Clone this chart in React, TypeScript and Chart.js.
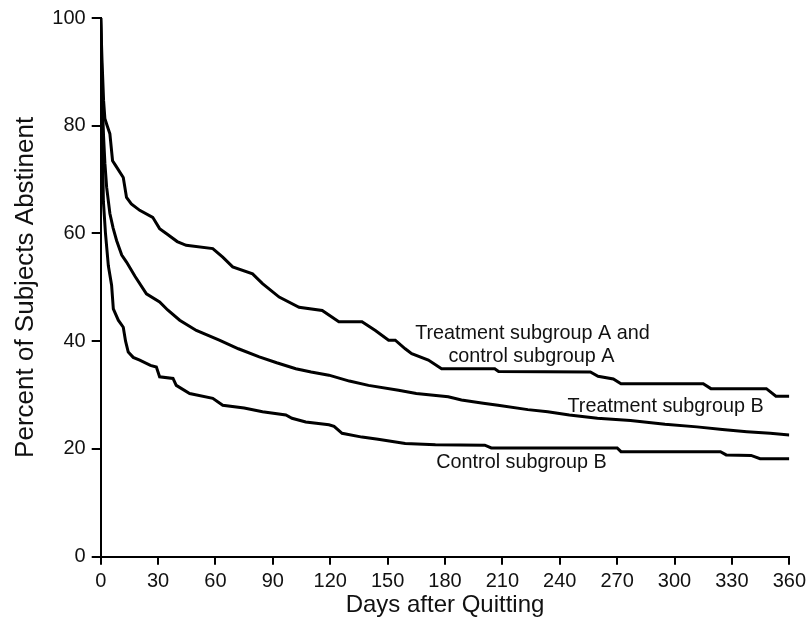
import { useEffect, useRef } from "react";
import { Chart, registerables } from "chart.js";

Chart.register(...registerables);

// ---- data ----
const xTickValues = [0, 30, 60, 90, 120, 150, 180, 210, 240, 270, 300, 330, 360];
const yTickValues = [0, 20, 40, 60, 80, 100];

const groupADays = [0, 0.7, 1.5, 2.2, 3.3, 4.8, 6.2, 8, 11.8, 13.5, 16, 20.4, 27.2, 30.8, 35, 40, 44.7, 58.6, 63.8, 69, 79.4, 84.6, 93.3, 103.7, 115.8, 124.5, 136.6, 143.6, 150.5, 154, 159.2, 162.6, 171.3, 178.2, 206, 208, 256, 260, 268, 272, 315, 319, 348, 353, 360];
const groupAPct = [100, 92, 84.7, 81.3, 80.1, 78.5, 73.5, 72.5, 70.4, 66.7, 65.5, 64.3, 63, 60.9, 59.8, 58.5, 57.8, 57.2, 55.6, 53.8, 52.5, 50.7, 48.2, 46.3, 45.7, 43.6, 43.6, 42, 40.2, 40.2, 38.6, 37.7, 36.5, 34.9, 34.9, 34.4, 34.3, 33.5, 33, 32.1, 32.1, 31.2, 31.2, 29.8, 29.8];

const treatBDays = [0, 0.8, 1.5, 2.2, 3.1, 4.8, 6.5, 8.3, 11, 13.5, 18, 23.9, 30.8, 35, 41.3, 50, 62, 72, 82.9, 92, 102, 110, 119.3, 130, 140, 155.7, 165, 181.7, 188.6, 200, 207.7, 223.3, 233.7, 245, 259.7, 277, 295, 311.7, 325, 337.8, 350, 360];
const treatBPct = [100, 85, 78, 73, 68.6, 63.7, 61, 58.7, 56, 54.7, 52, 48.8, 47.3, 45.8, 43.9, 42, 40.2, 38.6, 37.1, 36, 34.9, 34.3, 33.7, 32.6, 31.8, 30.9, 30.3, 29.7, 29.1, 28.5, 28.1, 27.3, 26.9, 26.3, 25.7, 25.3, 24.6, 24.1, 23.6, 23.2, 22.9, 22.6];

const controlBDays = [0, 0.7, 1.4, 2.5, 4, 5.7, 6.6, 9.2, 11.8, 13, 14.4, 17, 20.4, 26, 29.1, 30.8, 37.8, 39.5, 46.5, 58.6, 63.8, 75, 84.6, 96.8, 100, 107.2, 119.3, 122, 126.2, 136.6, 145, 159.2, 175, 200.8, 204.2, 270, 272, 324, 327, 340, 344.7, 360];
const controlBPct = [100, 82, 66, 60, 54, 50.4, 46, 43.9, 42.6, 40, 38, 37, 36.5, 35.5, 35.2, 33.4, 33.1, 31.8, 30.3, 29.4, 28.1, 27.6, 26.9, 26.3, 25.7, 25, 24.5, 24.2, 22.9, 22.2, 21.8, 21, 20.8, 20.7, 20.2, 20.2, 19.5, 19.5, 18.9, 18.8, 18.2, 18.2];

const curveLabels = ["Treatment subgroup A and", "control subgroup A", "Treatment subgroup B", "Control subgroup B"];
const labelDays = [225.7, 225.2, 295.3, 220];
const labelPct = [41.5, 37.1, 27.9, 17.4];

const xTitle = "Days after Quitting";
const yTitle = "Percent of Subjects Abstinent";

const FONT = "'Liberation Sans', Arial, Helvetica, sans-serif";
const INK = "#111111";

function toPoints(days: number[], pct: number[]) {
  return days.map((d, i) => ({ x: d, y: pct[i] }));
}

const labelPlugin = {
  id: "curveLabels",
  afterDatasetsDraw(chart: any) {
    const { ctx, scales } = chart;
    ctx.save();
    ctx.fillStyle = INK;
    ctx.font = `19.8px ${FONT}`;
    ctx.textAlign = "center";
    ctx.textBaseline = "middle";
    curveLabels.forEach((t, i) => {
      ctx.fillText(t, scales.x.getPixelForValue(labelDays[i]), scales.y.getPixelForValue(labelPct[i]));
    });
    ctx.restore();
  },
};

export default function App() {
  const canvasRef = useRef<HTMLCanvasElement | null>(null);

  useEffect(() => {
    if (!canvasRef.current) return;
    const line = (days: number[], pct: number[]) => ({
      data: toPoints(days, pct),
      borderColor: "#000000",
      borderWidth: 3,
      pointRadius: 0,
      tension: 0,
      fill: false,
    });
    const chart = new Chart(canvasRef.current, {
      type: "line",
      data: {
        datasets: [
          line(groupADays, groupAPct),
          line(treatBDays, treatBPct),
          line(controlBDays, controlBPct),
        ],
      },
      options: {
        animation: false,
        responsive: false,
        maintainAspectRatio: false,
        devicePixelRatio: 1,
        layout: { padding: { left: 0, right: 18.3, top: 17.3, bottom: 0 } },
        plugins: { legend: { display: false }, tooltip: { enabled: false } },
        scales: {
          x: {
            type: "linear",
            min: 0,
            max: 360,
            afterBuildTicks: (s: any) => {
              s.ticks = xTickValues.map((v) => ({ value: v }));
            },
            afterFit: (s: any) => {
              s.height = 73.3;
            },
            ticks: { color: INK, font: { family: FONT, size: 20 }, padding: 5, maxRotation: 0, autoSkip: false },
            grid: { drawOnChartArea: false, drawTicks: true, tickLength: 8, color: "#000", lineWidth: 2 },
            border: { display: true, color: "#000", width: 2 },
            title: { display: true, text: xTitle, color: INK, font: { family: FONT, size: 24, lineHeight: 1.2 }, padding: { top: 0, bottom: 10 } },
          },
          y: {
            type: "linear",
            min: 0,
            max: 100,
            afterBuildTicks: (s: any) => {
              s.ticks = yTickValues.map((v) => ({ value: v }));
            },
            afterFit: (s: any) => {
              s.width = 100.7;
            },
            ticks: { color: INK, font: { family: FONT, size: 20 }, padding: 6 },
            grid: { drawOnChartArea: false, drawTicks: true, tickLength: 9, color: "#000", lineWidth: 2 },
            border: { display: true, color: "#000", width: 2 },
            title: { display: true, text: yTitle, color: INK, font: { family: FONT, size: 26, lineHeight: 1.2 }, padding: { top: 10, bottom: 0 } },
          },
        },
      },
      plugins: [labelPlugin],
    });
    return () => chart.destroy();
  }, []);

  return (
    <div style={{ position: "absolute", left: 0, top: 0, width: 811, height: 630, background: "#fff" }}>
      <canvas ref={canvasRef} width={811} height={630} style={{ width: 811, height: 630, display: "block" }} />
    </div>
  );
}
